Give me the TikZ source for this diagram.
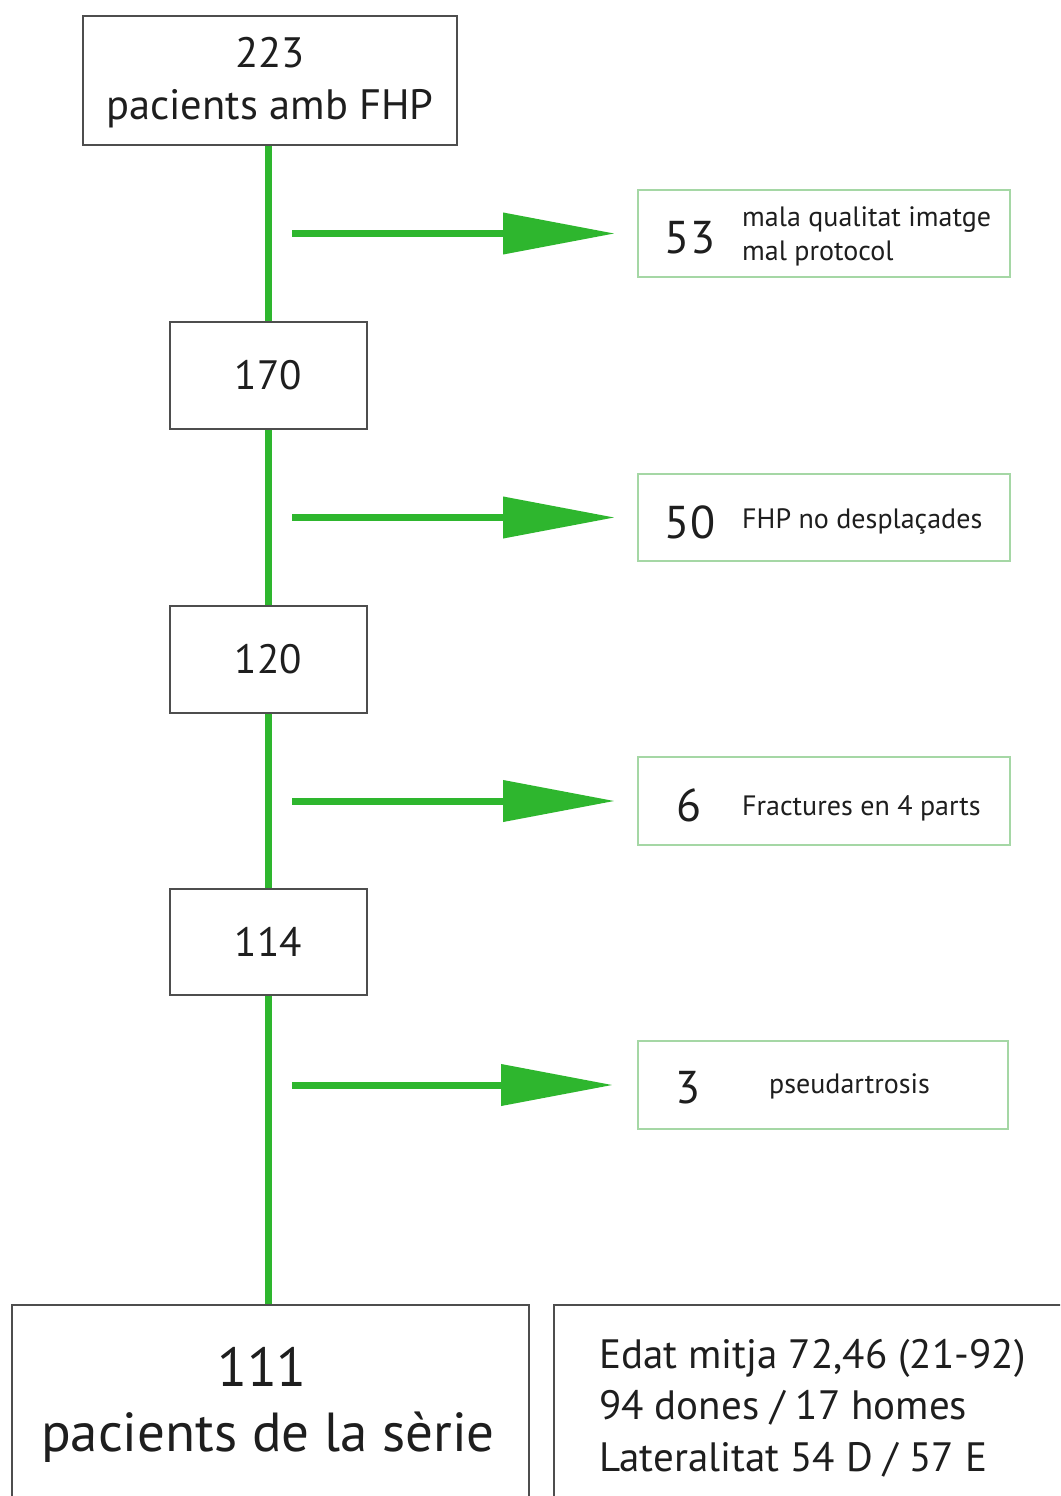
\documentclass[tikz,border=0pt]{standalone}
\usepackage{fontspec}
\setmainfont{PT Sans}
\usetikzlibrary{arrows.meta}
\definecolor{flowgreen}{RGB}{46,182,46}
\definecolor{boxgray}{RGB}{78,78,78}
\definecolor{palegreen}{RGB}{165,215,165}
\definecolor{ink}{RGB}{30,30,30}
\begin{document}
\begin{tikzpicture}[x=1pt,y=-1pt,
  stagebox/.style={draw=boxgray,line width=2.6pt,fill=white,inner sep=0pt,text=ink},
  outbox/.style={draw=palegreen,line width=1.8pt,fill=white,inner sep=0pt},
  flowline/.style={draw=flowgreen,line width=7pt},
  flowarrow/.style={draw=flowgreen,line width=7pt,-{Triangle[length=112pt,width=40pt]}},
  bignum/.style={font=\fontsize{46}{50}\selectfont,text=ink,inner sep=0pt},
  smalltxt/.style={font=\fontsize{28}{34}\selectfont,text=ink,inner sep=0pt,anchor=west,align=left}
]
\useasboundingbox (0,0) rectangle (1060,1496);
\clip (0,0) rectangle (1060,1496);
\fill[white] (0,0) rectangle (1060,1496);

% main stages
\node[stagebox,minimum width=374pt,minimum height=129pt] (top) at (270,80.5) {};
\node[align=center,inner sep=0pt,text=ink,font=\fontsize{42.5}{52}\selectfont] (toptxt) at (270,82.5) {223\\pacients amb FHP};
\node[stagebox,minimum width=197pt,minimum height=107pt,font=\fontsize{41}{48}\selectfont] (s170) at (268.5,375.5) {170};
\node[stagebox,minimum width=197pt,minimum height=107pt,font=\fontsize{41}{48}\selectfont] (s120) at (268.5,659.5) {120};
\node[stagebox,minimum width=197pt,minimum height=106pt,font=\fontsize{41}{48}\selectfont] (s114) at (268.5,942) {114};

% final boxes
\node[stagebox,minimum width=517pt,minimum height=230pt] (final) at (270.5,1420) {};
\node[font=\fontsize{55}{60}\selectfont,text=ink,inner sep=0pt] (finalnum) at (262,1367) {111};
\node[font=\fontsize{55}{60}\selectfont,text=ink,inner sep=0pt] (finaltxt) at (268,1437) {pacients de la sèrie};

\node[stagebox,minimum width=521pt,minimum height=230pt] (stats) at (814.5,1420) {};
\node[font=\fontsize{41}{51.5}\selectfont,text=ink,inner sep=0pt,anchor=west,align=left]
  (statstxt) at (599,1408) {Edat mitja 72,46 (21-92)\\94 dones / 17 homes\\Lateralitat 54 D / 57 E};

% excluded groups
\node[outbox,minimum width=372pt,minimum height=87pt] (g53) at (824,233.5) {};
\node[outbox,minimum width=372pt,minimum height=87pt] (g50) at (824,517.5) {};
\node[outbox,minimum width=372pt,minimum height=88pt] (g6) at (824,801) {};
\node[outbox,minimum width=370pt,minimum height=88pt] (g3) at (823,1085) {};

\node[bignum] (n53) at (690,238) {53};
\node[smalltxt] (t53) at (742,236) {mala qualitat imatge\\mal protocol};
\node[bignum] (n50) at (690,522) {50};
\node[smalltxt] (t50) at (742,521) {FHP no desplaçades};
\node[bignum] (n6) at (689,805) {6};
\node[smalltxt] (t6) at (742,808) {Fractures en 4 parts};
\node[bignum] (n3) at (688,1088) {3};
\node[smalltxt] (t3) at (769,1086) {pseudartrosis};

% main flow
\draw[flowline] (top.south -| s170.north) -- (s170.north);
\draw[flowline] (s170.south) -- (s120.north);
\draw[flowline] (s120.south) -- (s114.north);
\draw[flowline] (s114.south) -- (s114.south |- final.north);

% exclusion arrows
\coordinate (e1) at (292,233.5);
\coordinate (e2) at (292,517.5);
\coordinate (e3) at (292,801);
\coordinate (e4) at (292,1085);
\draw[flowarrow] (e1) -- ([xshift=-22pt]g53.west);
\draw[flowarrow] (e2) -- ([xshift=-22pt]g50.west);
\draw[flowarrow] (e3) -- ([xshift=-22pt]g6.west);
\draw[flowarrow] (e4) -- ([xshift=-24pt]g3.west);
\end{tikzpicture}
\end{document}
